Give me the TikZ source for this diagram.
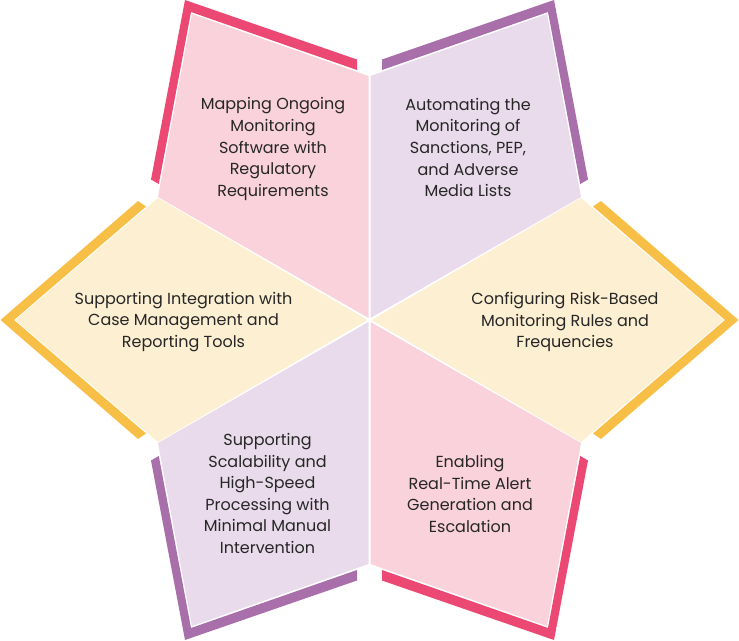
\documentclass[tikz,border=0pt]{standalone}
\usepackage{fontspec}
\setmainfont{Poppins}
\usepackage{tikz}
\definecolor{pinkfill}{HTML}{F9D2DC}
\definecolor{pinkedge}{HTML}{EB4873}
\definecolor{plumfill}{HTML}{E9DBEB}
\definecolor{plumedge}{HTML}{A86FAB}
\definecolor{sandfill}{HTML}{FCEFD2}
\definecolor{sandedge}{HTML}{F8BF47}
\tikzset{
  petaltext/.style={align=center, font=\fontsize{16}{21.6}\selectfont, text=black!85}
}

\begin{document}
\begin{tikzpicture}[x=1pt, y=-1pt]
  \useasboundingbox (0,0) rectangle (739,640);

  % the four slanted petals
  \foreach \sx/\sy/\cfill/\cedge in {-1/-1/pinkfill/pinkedge, 1/-1/plumfill/plumedge,
                                     -1/1/plumfill/plumedge, 1/1/pinkfill/pinkedge}
  {
    \fill[\cfill] (369.5+\sx*1,320+\sy*244) -- (369.5+\sx*177.5,320+\sy*306)
      -- (369.5+\sx*211.5,320+\sy*123) -- (369.5+\sx*1,320+\sy*2) -- cycle;
    \fill[\cedge] (369.5+\sx*184.5,320+\sy*320) -- (369.5+\sx*12.5,320+\sy*260.5)
      -- (369.5+\sx*12.5,320+\sy*250) -- (369.5+\sx*178.5,320+\sy*308)
      -- (369.5+\sx*210.7,320+\sy*136) -- (369.5+\sx*218.5,320+\sy*140.5) -- cycle;
  }

  % the two flat petals
  \foreach \sx in {-1,1}
  {
    \fill[sandfill] (369.5+\sx*2,320) -- (369.5+\sx*211.5,198)
      -- (369.5+\sx*354,320) -- (369.5+\sx*211.5,442) -- cycle;
    \fill[sandedge] (369.5+\sx*369,320) -- (369.5+\sx*231.5,201)
      -- (369.5+\sx*223.5,206.5) -- (369.5+\sx*355.5,320)
      -- (369.5+\sx*223.5,433.5) -- (369.5+\sx*231.5,439) -- cycle;
  }

  \node[petaltext] (mapping) at (273,149) {Mapping Ongoing\\Monitoring\\Software with\\Regulatory\\Requirements};
  \node[petaltext] (automating) at (468,147.5) {Automating the\\Monitoring of\\Sanctions, PEP,\\and Adverse\\Media Lists};
  \node[petaltext] (integration) at (183.5,322) {Supporting Integration with\\Case Management and\\Reporting Tools};
  \node[petaltext] (configuring) at (565,322) {Configuring Risk-Based\\Monitoring Rules and\\Frequencies};
  \node[petaltext] (scalability) at (267.5,493.5) {Supporting\\Scalability and\\High-Speed\\Processing with\\Minimal Manual\\Intervention};
  \node[petaltext] (alerts) at (470,494) {Enabling\\Real-Time Alert\\Generation and\\Escalation};
\end{tikzpicture}
\end{document}
